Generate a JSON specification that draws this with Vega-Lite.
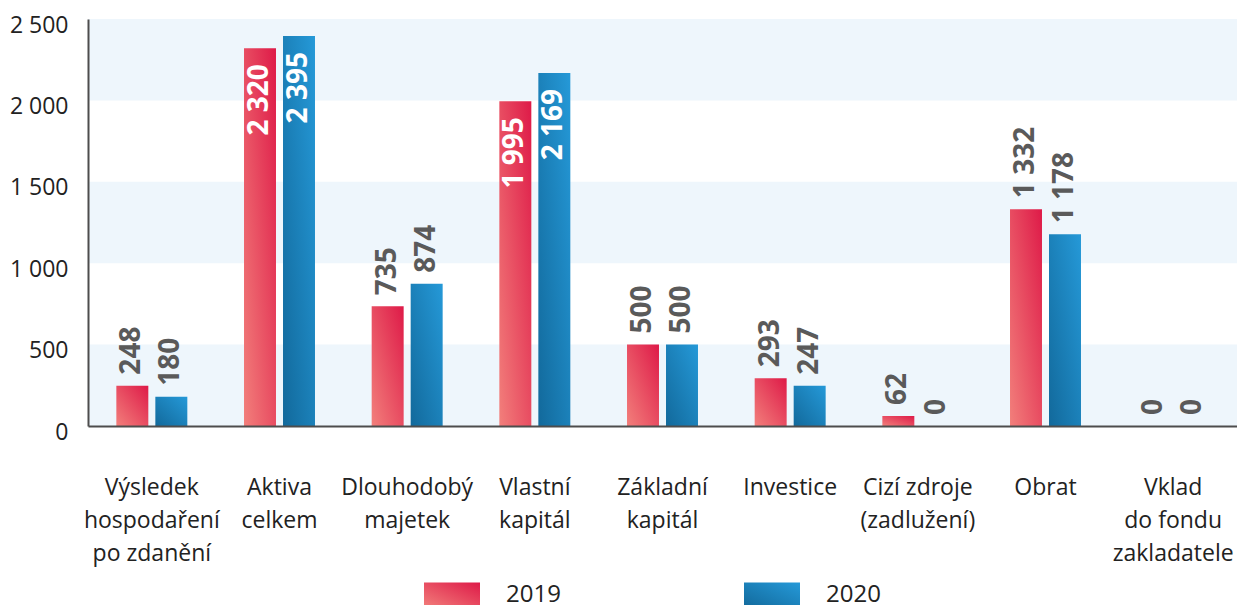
{
  "$schema": "https://vega.github.io/schema/vega-lite/v6.json",
  "width": 1149,
  "height": 407,
  "autosize": "none",
  "padding": {"left": 88, "top": 19, "right": 0, "bottom": 179},
  "background": "#ffffff",
  "config": {
    "view": {"stroke": null},
    "locale": {"number": {"decimal": ",", "thousands": " ", "grouping": [3], "currency": ["", " Kč"]}},
    "axis": {"labelFont": "Open Sans", "labelColor": "#222222", "title": null}
  },
  "data": {
    "values": [
      {"cat": "Výsledek\nhospodaření\npo zdanění", "year": "2019", "value": 248},
      {"cat": "Výsledek\nhospodaření\npo zdanění", "year": "2020", "value": 180},
      {"cat": "Aktiva\ncelkem", "year": "2019", "value": 2320},
      {"cat": "Aktiva\ncelkem", "year": "2020", "value": 2395},
      {"cat": "Dlouhodobý\nmajetek", "year": "2019", "value": 735},
      {"cat": "Dlouhodobý\nmajetek", "year": "2020", "value": 874},
      {"cat": "Vlastní\nkapitál", "year": "2019", "value": 1995},
      {"cat": "Vlastní\nkapitál", "year": "2020", "value": 2169},
      {"cat": "Základní\nkapitál", "year": "2019", "value": 500},
      {"cat": "Základní\nkapitál", "year": "2020", "value": 500},
      {"cat": "Investice", "year": "2019", "value": 293},
      {"cat": "Investice", "year": "2020", "value": 247},
      {"cat": "Cizí zdroje\n(zadlužení)", "year": "2019", "value": 62},
      {"cat": "Cizí zdroje\n(zadlužení)", "year": "2020", "value": 0},
      {"cat": "Obrat", "year": "2019", "value": 1332},
      {"cat": "Obrat", "year": "2020", "value": 1178},
      {"cat": "Vklad\ndo fondu\nzakladatele", "year": "2019", "value": 0},
      {"cat": "Vklad\ndo fondu\nzakladatele", "year": "2020", "value": 0}
    ]
  },
  "layer": [
    {
      "data": {"values": [{"lo": 0, "hi": 500}, {"lo": 1000, "hi": 1500}, {"lo": 2000, "hi": 2500}]},
      "mark": {"type": "rect", "color": "#EEF6FC"},
      "encoding": {
        "x": {"value": 0},
        "x2": {"value": "width"},
        "y": {"field": "lo", "type": "quantitative", "scale": {"domain": [0, 2500], "nice": false}},
        "y2": {"field": "hi"}
      }
    },
    {
      "mark": {"type": "bar"},
      "encoding": {
        "x": {
          "field": "cat", "type": "nominal", "sort": null,
          "scale": {"paddingInner": 0.444, "paddingOuter": 0.222},
          "axis": {"zindex": 1, "labelAngle": 0, "labelExpr": "split(datum.value, '\\n')", "labelFontSize": 23, "labelLineHeight": 33, "labelBaseline": "top", "labelPadding": 50, "ticks": false, "domain": true, "domainColor": "#4d4d4d", "domainWidth": 2, "labelLimit": 0, "labelBound": false, "labelOverlap": false, "labelFlush": false, "grid": false}
        },
        "xOffset": {"field": "year", "type": "nominal", "scale": {"paddingInner": 0.18, "paddingOuter": 0}},
        "y": {
          "field": "value", "type": "quantitative",
          "scale": {"domain": [0, 2500], "nice": false},
          "axis": {"zindex": 1, "values": [0, 500, 1000, 1500, 2000, 2500], "format": ",.0f", "labelFontSize": 23, "labelPadding": 20, "labelOffset": 6, "ticks": false, "grid": false, "domain": true, "domainColor": "#4d4d4d", "domainWidth": 2}
        },
        "color": {
          "field": "year", "type": "nominal",
          "scale": {
            "domain": ["2019", "2020"],
            "range": [
              {"expr": "{gradient: 'linear', x1: 0, y1: 1, x2: 1, y2: 0, stops: [{offset: 0, color: '#F27F7B'}, {offset: 1, color: '#DE1A48'}]}"},
              {"expr": "{gradient: 'linear', x1: 0, y1: 1, x2: 1, y2: 0, stops: [{offset: 0, color: '#12699B'}, {offset: 1, color: '#2599D8'}]}"}
            ]
          },
          "legend": {
            "orient": "none", "legendX": 336, "legendY": 548, "direction": "horizontal", "title": null,
            "symbolType": "M-1,-0.45L1,-0.45L1,0.45L-1,0.45Z", "symbolSize": 3136, "symbolStrokeWidth": 0, "symbolOpacity": 1,
            "labelFont": "Open Sans", "labelFontSize": 24, "labelColor": "#222222", "labelOffset": 26, "columnPadding": 183, "padding": 0
          }
        }
      }
    },
    {
      "transform": [{"filter": "datum.value < 1500"}],
      "mark": {"type": "text", "angle": 270, "align": "left", "baseline": "middle", "dx": 11, "font": "Open Sans", "fontWeight": "bold", "fontSize": 28, "fill": "#5a5a5a"},
      "encoding": {
        "x": {"field": "cat", "type": "nominal", "sort": null},
        "xOffset": {"field": "year", "type": "nominal"},
        "y": {"field": "value", "type": "quantitative"},
        "text": {"field": "value", "type": "quantitative", "format": ",.0f"}
      }
    },
    {
      "transform": [{"filter": "datum.value >= 1500"}],
      "mark": {"type": "text", "angle": 270, "align": "right", "baseline": "middle", "dx": -16, "font": "Open Sans", "fontWeight": "bold", "fontSize": 28, "fill": "#ffffff"},
      "encoding": {
        "x": {"field": "cat", "type": "nominal", "sort": null},
        "xOffset": {"field": "year", "type": "nominal"},
        "y": {"field": "value", "type": "quantitative"},
        "text": {"field": "value", "type": "quantitative", "format": ",.0f"}
      }
    }
  ]
}
